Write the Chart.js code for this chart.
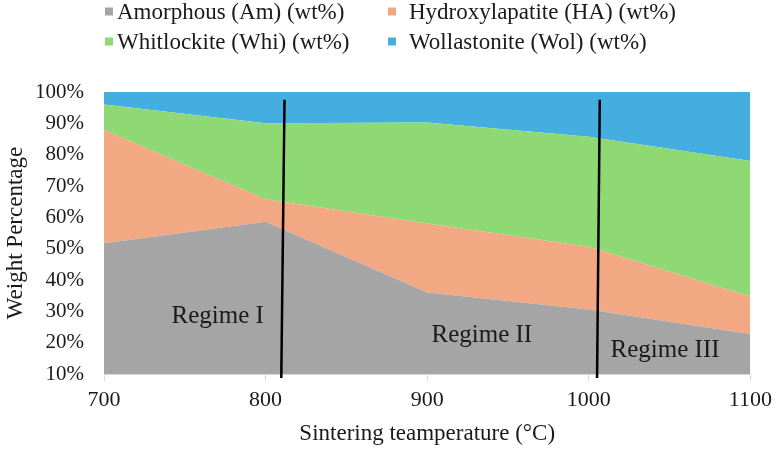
<!DOCTYPE html>
<html>
<head>
<meta charset="utf-8">
<script src="https://cdn.jsdelivr.net/npm/chart.js@4.4.1/dist/chart.umd.min.js"></script>
<style>
  html, body { margin: 0; padding: 0; background: #fff; }
  #wrap { width: 778px; height: 451px; position: relative; }
</style>
</head>
<body>
<div id="wrap"><canvas id="chart"></canvas></div>
<script>
const temperatures = [700, 800, 900, 1000, 1100];
const amorphous = [51.7, 58.6, 36.0, 30.6, 22.8];
const hydroxyapatite = [36.2, 7.2, 22.0, 20.0, 11.9];
const whitlockite = [8.1, 24.2, 32.3, 35.1, 43.3];
const wollastonite = [4.0, 10.0, 9.7, 14.3, 22.0];

const seriesLabels = ['Amorphous (Am) (wt%)', 'Hydroxylapatite (HA) (wt%)', 'Whitlockite (Whi) (wt%)', 'Wollastonite (Wol) (wt%)'];
const seriesColors = ['#a5a5a5', '#f2a882', '#8fd974', '#45aee0'];

// regime boundaries drawn by hand in the original: [x top, y top, x bottom, y bottom]
const regimeLines = [[811.7, 97.5, 809.7, 8.7], [1006.8, 97.5, 1005.1, 8.7]];
const regimeLabels = ['Regime I', 'Regime II', 'Regime III'];
const regimeLabelPos = [[770.4, 26.2], [933.8, 20.1], [1047.2, 15.5]];

const SERIF = '"Liberation Serif", "Times New Roman", serif';
const TEXT = '#1a1a1a';

const toPoints = arr => arr.map((v, i) => ({ x: temperatures[i], y: v }));

const annotations = {
  id: 'annotations',
  afterDatasetsDraw(chart) {
    const { ctx, scales: { x, y } } = chart;
    ctx.save();
    ctx.strokeStyle = '#000';
    ctx.lineWidth = 2.5;
    regimeLines.forEach(([x1, y1, x2, y2]) => {
      ctx.beginPath();
      ctx.moveTo(x.getPixelForValue(x1), y.getPixelForValue(y1));
      ctx.lineTo(x.getPixelForValue(x2), y.getPixelForValue(y2));
      ctx.stroke();
    });
    ctx.fillStyle = TEXT;
    ctx.font = '25px ' + SERIF;
    ctx.textAlign = 'center';
    ctx.textBaseline = 'alphabetic';
    regimeLabels.forEach((t, i) => {
      const [px, py] = regimeLabelPos[i];
      ctx.fillText(t, x.getPixelForValue(px), y.getPixelForValue(py));
    });
    ctx.restore();
  },
  afterDraw(chart) {
    // two-column legend like the original
    const { ctx } = chart;
    const boxX = [105, 388];
    const textX = [117, 409];
    const rowY = [18.5, 48.5];
    ctx.save();
    ctx.font = '23px ' + SERIF;
    ctx.textBaseline = 'alphabetic';
    ctx.textAlign = 'left';
    chart.data.datasets.forEach((ds, i) => {
      const col = i % 2;
      const cy = rowY[Math.floor(i / 2)];
      ctx.fillStyle = ds.backgroundColor;
      ctx.fillRect(boxX[col], cy - 11, 8, 8);
      ctx.fillStyle = TEXT;
      ctx.fillText(ds.label, textX[col], cy);
    });
    ctx.restore();
  }
};

const datasets = [amorphous, hydroxyapatite, whitlockite, wollastonite].map((arr, i) => ({
  label: seriesLabels[i],
  data: toPoints(arr),
  backgroundColor: seriesColors[i],
  borderColor: seriesColors[i],
  borderWidth: 0,
  pointRadius: 0,
  fill: i === 0 ? 'origin' : '-1',
  tension: 0,
}));

new Chart(document.getElementById('chart'), {
  type: 'line',
  data: { datasets },
  options: {
    responsive: true,
    maintainAspectRatio: false,
    animation: false,
    layout: { padding: { top: 92, right: 26, left: 0, bottom: 0 } },
    plugins: {
      legend: { display: false },
      tooltip: { enabled: false },
    },
    scales: {
      x: {
        type: 'linear',
        min: 700,
        max: 1100,
        ticks: {
          stepSize: 100,
          padding: 6,
          color: TEXT,
          font: { family: SERIF, size: 22 },
          callback: v => String(v),
        },
        grid: { drawOnChartArea: false, drawTicks: true, tickLength: 7, color: '#d9d9d9' },
        border: { display: true, color: '#d9d9d9' },
        title: {
          display: true,
          text: 'Sintering teamperature (°C)',
          color: TEXT,
          font: { family: SERIF, size: 23 },
          padding: { top: 0, bottom: 3 },
        },
        afterFit(scale) { scale.height = 77; },
      },
      y: {
        stacked: true,
        min: 10,
        max: 100,
        ticks: {
          stepSize: 10,
          padding: 20,
          color: TEXT,
          font: { family: SERIF, size: 21 },
          callback: v => v + '%',
        },
        grid: { display: false, drawTicks: false },
        border: { display: false },
        title: {
          display: true,
          text: 'Weight Percentage',
          color: TEXT,
          font: { family: SERIF, size: 23 },
          padding: { top: 2, bottom: 0 },
        },
        afterFit(scale) { scale.width = 104; },
      },
    },
  },
  plugins: [annotations],
});
</script>
</body>
</html>
